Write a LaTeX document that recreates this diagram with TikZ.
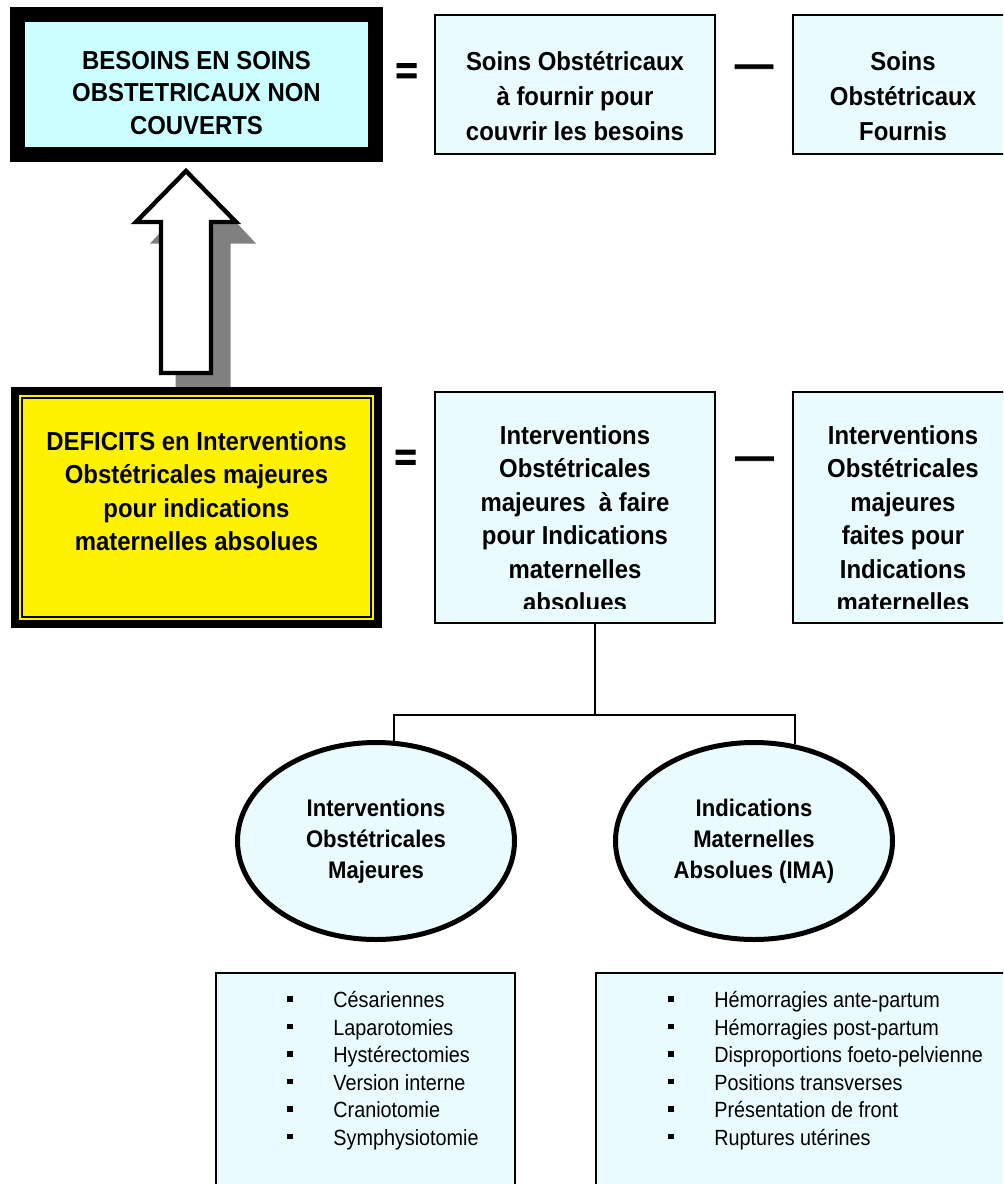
\documentclass[tikz,border=0pt]{standalone}
\usepackage{fontspec}
\setmainfont{Liberation Sans}
\newfontfamily\etroit{Liberation Sans}[FakeStretch=0.92]
\newfontfamily\etroitfin{Liberation Sans}[FakeStretch=0.9]
\newfontfamily\epais{Liberation Sans}[FakeBold=2.5]
\usetikzlibrary{shapes, arrows, positioning, calc}
\definecolor{cyanvif}{HTML}{CCFFFF}
\definecolor{cyanpale}{HTML}{EAFBFE}
\definecolor{ombre}{HTML}{808080}
\newcommand{\puce}{\makebox[23pt][l]{\raisebox{3pt}{\rule{2.75pt}{2.75pt}}}}
\tikzstyle{cadreNoir} = [draw=black, fill=cyanvif, line width=7.5pt, rectangle, inner sep=0pt, outer sep=0pt, anchor=north west]
\tikzstyle{cadreJaune} = [draw=black, fill=yellow, line width=4pt, rectangle, inner sep=0pt, outer sep=0pt, anchor=north west]
\tikzstyle{boite} = [draw=black, fill=cyanpale, line width=1pt, rectangle, inner sep=0pt, outer sep=0pt, anchor=north west]
\tikzstyle{bulle} = [draw=black, fill=cyanpale, line width=2.5pt, ellipse, inner sep=0pt, align=center, font=\etroit\fontsize{12pt}{15.5pt}\selectfont\bfseries]
\tikzstyle{texte} = [inner sep=0pt, align=center, font=\etroit\fontsize{13pt}{16.75pt}\selectfont\bfseries]
\tikzstyle{liste} = [inner sep=0pt, align=left, font=\etroitfin\fontsize{11pt}{13.75pt}\selectfont]
\tikzstyle{signe} = [inner sep=0pt, font=\epais\fontsize{19pt}{19pt}\selectfont\bfseries]
\tikzstyle{lien} = [draw=black, line width=1pt]

\begin{document}
\begin{tikzpicture}[x=0.5pt, y=-0.5pt]
	\clip (0,0) rectangle (1003,1184);
	% fleche avec ombre
	\fill[ombre] (175.5,392) -- (175.5,243.5) -- (150,243.5) -- (203,187) -- (256,243.5) -- (230.5,243.5) -- (230.5,392) -- cycle;
	\draw[fill=white, line width=2.2pt] (161,373) -- (161,222) -- (136,222) -- (186,171) -- (236,222) -- (211,222) -- (211,373) -- cycle;
	% premiere ligne
	\node[cadreNoir, minimum width=179pt, minimum height=70pt] (besoins) at (17.5,14.5) {};
	\node[texte, font=\etroit\fontsize{13pt}{16.25pt}\selectfont\bfseries, below=18pt of besoins.north] (besoinsTxt) {BESOINS EN SOINS\\OBSTETRICAUX NON\\COUVERTS};
	\node[signe] (egalHaut) at (406.5,73.5) {=};
	\node[boite, minimum width=140pt, minimum height=69.5pt] (aFournir) at (435,15) {};
	\node[texte, font=\etroit\fontsize{13pt}{17.5pt}\selectfont\bfseries, below=18pt of aFournir.north] (aFournirTxt) {Soins Obstétricaux\\à fournir pour\\couvrir les besoins};
	\node[signe] (moinsHaut) at (754,71) {—};
	\node[boite, minimum width=110pt, minimum height=69.5pt] (fournis) at (793,15) {};
	\node[texte, font=\etroit\fontsize{13pt}{17.5pt}\selectfont\bfseries, below=18pt of fournis.north] (fournisTxt) {Soins\\Obstétricaux\\Fournis};
	% deuxieme ligne
	\node[cadreJaune, minimum width=181.5pt, minimum height=116.5pt] (deficit) at (15,391) {};
	\draw[line width=1pt] ($(deficit.north west)+(7,7)$) rectangle ($(deficit.south east)+(-7,-7)$);
	\node[texte, below=20pt of deficit.north] (deficitTxt) {DEFICITS en Interventions\\Obstétricales majeures\\pour indications\\maternelles absolues};
	\node[signe] (egalBas) at (405.5,460) {=};
	\node[boite, minimum width=140pt, minimum height=115.5pt] (aFaire) at (435,392) {};
	\begin{scope}
		\clip (aFaire.north west) rectangle ([yshift=7.5pt]aFaire.south east);
		\node[texte, below=16.5pt of aFaire.north] (aFaireTxt) {Interventions\\Obstétricales\\majeures \ à faire\\pour Indications\\maternelles\\absolues};
	\end{scope}
	\node[signe] (moinsBas) at (754.5,463) {—};
	\node[boite, minimum width=110pt, minimum height=115.5pt] (faites) at (793,392) {};
	\begin{scope}
		\clip (faites.north west) rectangle ([yshift=7.5pt]faites.south east);
		\node[texte, below=16.5pt of faites.north] (faitesTxt) {Interventions\\Obstétricales\\majeures\\faites pour\\Indications\\maternelles};
	\end{scope}
	% ellipses
	\node[bulle, minimum width=138.5pt, minimum height=98.5pt] (intervMaj) at (376,841) {Interventions\\Obstétricales\\Majeures};
	\node[bulle, minimum width=138.5pt, minimum height=98.5pt] (indicMat) at (754,841) {Indications\\Maternelles\\Absolues (IMA)};
	\coordinate (noeud) at (595,715);
	\draw[lien] (aFaire.south -| noeud) -- (noeud);
	\draw[lien] (intervMaj.80) -- (intervMaj.80 |- noeud) -- (indicMat.67 |- noeud) -- (indicMat.67);
	% listes
	\node[boite, minimum width=149.5pt, minimum height=113.5pt] (gestes) at (216,973) {};
	\node[liste, below right=9pt and 35.5pt of gestes.north west] (gestesTxt) {\puce Césariennes\\\puce Laparotomies\\\puce Hystérectomies\\\puce Version interne\\\puce Craniotomie\\\puce Symphysiotomie};
	\node[boite, minimum width=209.5pt, minimum height=113.5pt] (causes) at (596,973) {};
	\node[liste, below right=9pt and 36pt of causes.north west] (causesTxt) {\puce Hémorragies ante-partum\\\puce Hémorragies post-partum\\\puce Disproportions foeto-pelvienne\\\puce Positions transverses\\\puce Présentation de front\\\puce Ruptures utérines};
\end{tikzpicture}
\end{document}
